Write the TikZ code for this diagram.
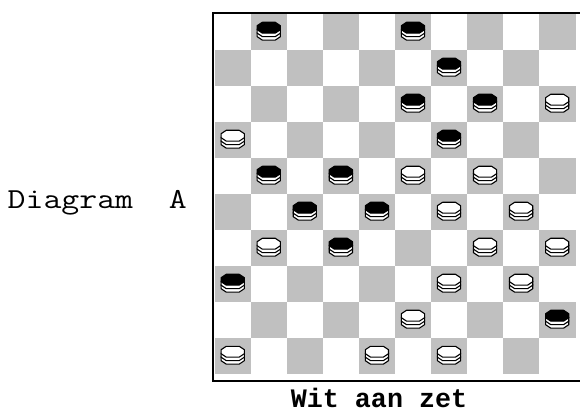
\documentclass[tikz,border=0pt]{standalone}
\usepackage{fontspec}
\newfontfamily\monofont{Liberation Mono}
\newfontfamily\courfont[FakeStretch=1.2]{Latin Modern Mono}
\definecolor{sqgray}{RGB}{192,192,192}
\tikzset{
  piecedraw/.style={draw=black, line width=1.1pt, line join=round},
  pics/piecebody/.style={code={
    \foreach \dy in {-7,-3.5}{
      \draw[piecedraw, fill=white, yshift=\dy pt] (-6.5,5.4) -- (6.5,5.4) -- (11.6,2) -- (11.6,-2) -- (6.5,-5.4) -- (-6.5,-5.4) -- (-11.6,-2) -- (-11.6,2) -- cycle;
    }
    \draw[piecedraw, fill=#1] (-6.5,5.4) -- (6.5,5.4) -- (11.6,2) -- (11.6,-2) -- (6.5,-5.4) -- (-6.5,-5.4) -- (-11.6,-2) -- (-11.6,2) -- cycle;
  }},
  frameline/.style={draw=black, line width=1.8pt},
  labeltext/.style={inner sep=0pt, text=black}
}
\begin{document}
\begin{tikzpicture}[x=1pt, y=1pt]
\useasboundingbox[fill=white] (0,0) rectangle (580,412);
% board squares
\foreach \r in {0,...,9}{
  \foreach \c in {0,...,9}{
    \pgfmathtruncatemacro{\sqpar}{mod(\r+\c,2)}
    \ifnum\sqpar=1
      \fill[sqgray] ({215+36.05*\c},{398-36*\r}) rectangle ({215+36.05*(\c+1)},{398-36*(\r+1)});
    \fi
  }
}
% frame
\coordinate (tr) at (580,398.9);
\coordinate (tl) at (213.2,398.9);
\coordinate (bl) at (213.2,30.7);
\coordinate (br) at (580,30.7);
\draw[frameline] (tr) -- (tl) -- (bl) -- (br);
% black pieces
\foreach \c/\r in {1/0,5/0,6/1,5/2,7/2,6/3,1/4,3/4,2/5,4/5,3/6,0/7,9/8}{
  \pic at ({215+36.05*(\c+0.5)-0.3},{398-36*(\r+0.5)+4.3}) {piecebody=black};
}
% white pieces
\foreach \c/\r in {9/2,0/3,5/4,7/4,6/5,8/5,1/6,7/6,9/6,6/7,8/7,5/8,0/9,4/9,6/9}{
  \pic at ({215+36.05*(\c+0.5)-0.3},{398-36*(\r+0.5)+4.3}) {piecebody=white};
}
% texts
\node[labeltext, anchor=base west, font=\fontsize{29}{32}\selectfont\courfont] (diag) at (7.5,203) {Diagram\ \ A};
\node[labeltext, anchor=base, font=\monofont\bfseries\fontsize{26.7}{30}\selectfont] (tomove) at (379,5) {Wit aan zet};
\end{tikzpicture}
\end{document}
